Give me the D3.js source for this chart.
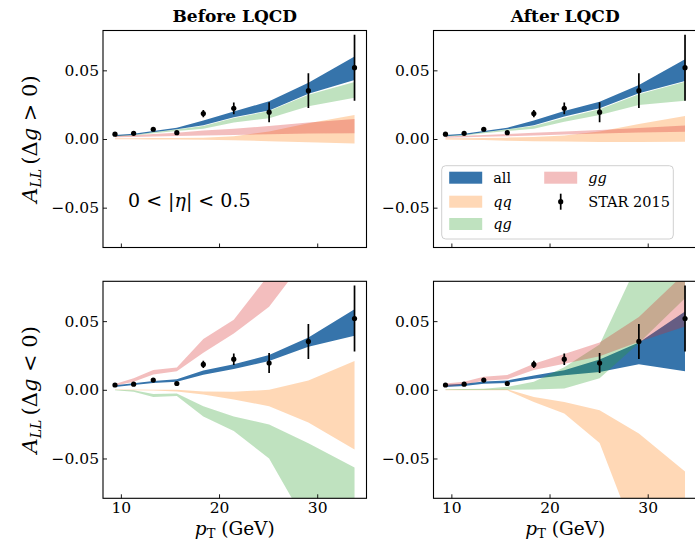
<!DOCTYPE html>
<html><head><meta charset="utf-8">
<script src="https://cdn.jsdelivr.net/npm/d3@7"></script>
<style>
body{margin:0;background:#fff}
svg{display:block}
text{font-family:"DejaVu Serif",serif;fill:#000}
</style>
</head><body>
<svg id="c" width="695" height="552"></svg>
<script>
// ---- data ----
const pT      = [9.4, 11.3, 13.3, 15.7, 18.4, 21.5, 25.1, 29.1, 33.8];
const starA   = [0.0035, 0.0041, 0.0071, 0.0046, 0.0185, 0.0223, 0.0195, 0.0352, 0.0519];
const starErr = [0.0008, 0.0008, 0.0010, 0.0011, 0.0027, 0.0042, 0.0073, 0.0127, 0.0240];

const xTicks = [10, 20, 30];
const yTicks = [-0.05, 0, 0.05];
const colTitles = ["Before LQCD", "After LQCD"];
const seriesNames = ["all", "qq", "qg", "gg"];

// Before LQCD, Δg > 0
const bPos_all_lo = [0.0020,0.0030,0.0049,0.0071,0.0100,0.0158,0.0208,0.0330,0.0430];
const bPos_all_hi = [0.0030,0.0039,0.0058,0.0082,0.0135,0.0200,0.0275,0.0410,0.0600];
const bPos_qq_lo  = [-0.0001,-0.0002,-0.0003,-0.0004,-0.0006,-0.0009,-0.0016,-0.0024,-0.0032];
const bPos_qq_hi  = [0.0006,0.0006,0.0007,0.0008,0.0010,0.0020,0.0055,0.0115,0.0175];
const bPos_qg_lo  = [0.0018,0.0025,0.0042,0.0058,0.0075,0.0121,0.0151,0.0238,0.0300];
const bPos_qg_hi  = [0.0022,0.0030,0.0049,0.0070,0.0095,0.0152,0.0203,0.0323,0.0415];
const bPos_gg_lo  = [0.0012,0.0015,0.0018,0.0022,0.0025,0.0030,0.0035,0.0040,0.0042];
const bPos_gg_hi  = [0.0022,0.0028,0.0036,0.0045,0.0062,0.0075,0.0095,0.0120,0.0145];

// After LQCD, Δg > 0
const aPos_all_lo = [0.0020,0.0030,0.0049,0.0071,0.0100,0.0163,0.0223,0.0333,0.0422];
const aPos_all_hi = [0.0030,0.0039,0.0058,0.0082,0.0135,0.0204,0.0272,0.0393,0.0580];
const aPos_qq_lo  = [-0.0003,-0.0005,-0.0008,-0.0012,-0.0016,-0.0019,-0.0021,-0.0021,-0.0020];
const aPos_qq_hi  = [0.0005,0.0006,0.0008,0.0010,0.0014,0.0025,0.0055,0.0110,0.0168];
const aPos_qg_lo  = [0.0018,0.0025,0.0042,0.0058,0.0075,0.0126,0.0175,0.0248,0.0278];
const aPos_qg_hi  = [0.0022,0.0030,0.0049,0.0070,0.0095,0.0155,0.0216,0.0325,0.0417];
const aPos_gg_lo  = [0.0010,0.0013,0.0016,0.0020,0.0026,0.0032,0.0040,0.0047,0.0053];
const aPos_gg_hi  = [0.0018,0.0024,0.0030,0.0036,0.0045,0.0054,0.0065,0.0080,0.0098];

// Before LQCD, Δg < 0
const bNeg_all_lo = [0.0020,0.0035,0.0050,0.0059,0.0110,0.0151,0.0210,0.0314,0.0394];
const bNeg_all_hi = [0.0033,0.0047,0.0064,0.0076,0.0140,0.0186,0.0253,0.0380,0.0586];
const bNeg_qq_lo  = [-0.0002,-0.0004,-0.0006,-0.0012,-0.0035,-0.0070,-0.0120,-0.0238,-0.0435];
const bNeg_qq_hi  = [0.0002,0.0002,0.0001,0.0000,-0.0012,-0.0015,0.0000,0.0068,0.0210];
const bNeg_qg_lo  = [-0.0003,-0.0015,-0.0052,-0.0045,-0.0195,-0.0300,-0.0500,-0.1000,-0.1500];
const bNeg_qg_hi  = [0.0000,-0.0003,-0.0030,-0.0027,-0.0120,-0.0195,-0.0252,-0.0390,-0.0565];
const bNeg_gg_lo  = [0.0030,0.0059,0.0112,0.0135,0.0270,0.0410,0.0605,0.0980,0.1400];
const bNeg_gg_hi  = [0.0042,0.0085,0.0144,0.0163,0.0370,0.0510,0.0840,0.1250,0.1700];

// After LQCD, Δg < 0
const aNeg_all_lo = [0.0020,0.0028,0.0044,0.0050,0.0080,0.0106,0.0130,0.0186,0.0135];
const aNeg_all_hi = [0.0036,0.0044,0.0060,0.0068,0.0105,0.0142,0.0220,0.0345,0.0570];
const aNeg_qq_lo  = [-0.0003,-0.0003,-0.0003,-0.0004,-0.0089,-0.0173,-0.0387,-0.1130,-0.2000];
const aNeg_qq_hi  = [0.0002,0.0002,0.0002,0.0004,-0.0052,-0.0089,-0.0149,-0.0319,-0.0594];
const aNeg_qg_lo  = [-0.0002,-0.0002,-0.0002,0.0000,0.0003,0.0010,0.0085,0.0340,0.0666];
const aNeg_qg_hi  = [0.0003,0.0005,0.0008,0.0022,0.0058,0.0165,0.0330,0.0940,0.1500];
const aNeg_gg_lo  = [0.0025,0.0039,0.0066,0.0076,0.0144,0.0190,0.0245,0.0350,0.0460];
const aNeg_gg_hi  = [0.0045,0.0058,0.0095,0.0108,0.0190,0.0260,0.0345,0.0530,0.0850];

// ---- styling ----
const bandFill    = {all:"#3674ab", qq:"#ff7f0e", qg:"#2ca02c", gg:"#d62728"};
const bandOpacity = {all:1, qq:0.3, qg:0.3, gg:0.3};

const panels = [
  {c:0, r:0, bands:{all:[bPos_all_lo,bPos_all_hi], qq:[bPos_qq_lo,bPos_qq_hi], qg:[bPos_qg_lo,bPos_qg_hi], gg:[bPos_gg_lo,bPos_gg_hi]}},
  {c:1, r:0, bands:{all:[aPos_all_lo,aPos_all_hi], qq:[aPos_qq_lo,aPos_qq_hi], qg:[aPos_qg_lo,aPos_qg_hi], gg:[aPos_gg_lo,aPos_gg_hi]}},
  {c:0, r:1, bands:{all:[bNeg_all_lo,bNeg_all_hi], qq:[bNeg_qq_lo,bNeg_qq_hi], qg:[bNeg_qg_lo,bNeg_qg_hi], gg:[bNeg_gg_lo,bNeg_gg_hi]}},
  {c:1, r:1, bands:{all:[aNeg_all_lo,aNeg_all_hi], qq:[aNeg_qq_lo,aNeg_qq_hi], qg:[aNeg_qg_lo,aNeg_qg_hi], gg:[aNeg_gg_lo,aNeg_gg_hi]}}
];

const svg = d3.select("#c");
const panelX = [103, 433.5], panelY = [30.5, 281.3];
const PW = 263.5, PH = 217;

const [xmin, xmax] = d3.extent(pT);
const xpad = 0.05 * (xmax - xmin);
const x = d3.scaleLinear().domain([xmin - xpad, xmax + xpad]).range([0, PW]);
const y = d3.scaleLinear().domain([-0.079, 0.079]).range([PH, 0]);
const fmtY = d3.format(".2f");

panels.forEach((p, k) => {
  const px = panelX[p.c], py = panelY[p.r];
  const g = svg.append("g").attr("transform", `translate(${px},${py})`);
  g.append("clipPath").attr("id", "clip" + k)
    .append("rect").attr("width", PW).attr("height", PH);
  const inner = g.append("g").attr("clip-path", `url(#clip${k})`);

  seriesNames.forEach(s => {
    const [lo, hi] = p.bands[s];
    const area = d3.area()
      .x((d, i) => x(pT[i]))
      .y0((d, i) => y(lo[i]))
      .y1((d, i) => y(hi[i]));
    inner.append("path").datum(pT).attr("d", area)
      .attr("fill", bandFill[s]).attr("fill-opacity", bandOpacity[s]);
  });

  // STAR 2015 data
  inner.selectAll("line.err").data(pT).join("line").attr("class", "err")
    .attr("x1", d => x(d)).attr("x2", d => x(d))
    .attr("y1", (d, i) => y(starA[i] - starErr[i]))
    .attr("y2", (d, i) => y(starA[i] + starErr[i]))
    .attr("stroke", "#000").attr("stroke-width", 1.7);
  inner.selectAll("circle.pt").data(pT).join("circle").attr("class", "pt")
    .attr("cx", d => x(d)).attr("cy", (d, i) => y(starA[i]))
    .attr("r", 2.6).attr("fill", "#000");

  // axes
  const xa = d3.axisBottom(x).tickValues(xTicks).tickSizeInner(-4).tickSizeOuter(0).tickPadding(4)
    .tickFormat(p.r === 1 ? d3.format("d") : () => "");
  const ya = d3.axisLeft(y).tickValues(yTicks).tickSizeInner(-4).tickSizeOuter(0).tickPadding(4)
    .tickFormat(d => fmtY(d));
  const gx = g.append("g").attr("transform", `translate(0,${PH})`).call(xa);
  const gy = g.append("g").call(ya);
  [gx, gy].forEach(a => {
    a.select(".domain").remove();
    a.selectAll(".tick line").attr("stroke", "#000").attr("stroke-width", 0.9);
    a.selectAll(".tick text").attr("font-family", "DejaVu Serif").attr("font-size", 15.5).attr("fill", "#000");
  });

  g.append("rect").attr("width", PW).attr("height", PH)
    .attr("fill", "none").attr("stroke", "#000").attr("stroke-width", 1.1);
});

// column titles
colTitles.forEach((t, c) => {
  svg.append("text").attr("x", panelX[c] + PW / 2).attr("y", 22)
    .attr("text-anchor", "middle").attr("font-weight", "bold").attr("font-size", 17).text(t);
});

// y labels
const ySigns = [">", "<"];
ySigns.forEach((sgn, r) => {
  const t = svg.append("text")
    .attr("transform", `translate(37,${panelY[r] + y(0)}) rotate(-90)`)
    .attr("text-anchor", "middle").attr("font-size", 21);
  t.append("tspan").attr("font-style", "italic").text("A");
  t.append("tspan").attr("font-style", "italic").attr("font-size", 14).attr("dy", 4).text("LL");
  t.append("tspan").attr("dy", -4).text("\u2009(Δ");
  t.append("tspan").attr("font-style", "italic").text("g");
  t.append("tspan").text(` ${sgn} 0)`);
});

// x labels
[0, 1].forEach(c => {
  const t = svg.append("text").attr("x", panelX[c] + PW / 2).attr("y", 534.5)
    .attr("text-anchor", "middle").attr("font-size", 18.5);
  t.append("tspan").attr("font-style", "italic").text("p");
  t.append("tspan").attr("font-size", 13).attr("dy", 3.5).text("T");
  t.append("tspan").attr("dy", -3.5).text(" (GeV)");
});

// eta annotation
{
  const t = svg.append("text").attr("x", 128).attr("y", 206.5).attr("font-size", 19);
  t.append("tspan").text("0 < |");
  t.append("tspan").attr("font-style", "italic").text("η");
  t.append("tspan").text("| < 0.5");
}

// legend
{
  const lg = svg.append("g").attr("transform", "translate(441.7,165.7)");
  lg.append("rect").attr("width", 231.6).attr("height", 73.3).attr("rx", 4)
    .attr("fill", "#fff").attr("fill-opacity", 0.8).attr("stroke", "#d0d0d0").attr("stroke-width", 1);
  const legendItems = [
    {s:"all", col:0, row:0, italic:false},
    {s:"qq",  col:0, row:1, italic:true},
    {s:"qg",  col:0, row:2, italic:true},
    {s:"gg",  col:1, row:0, italic:true}
  ];
  const colX = [7.5, 102.5], rowY = [12, 36, 58.3];
  legendItems.forEach(it => {
    lg.append("rect").attr("x", colX[it.col]).attr("y", rowY[it.row] - 6)
      .attr("width", 33).attr("height", 12)
      .attr("fill", bandFill[it.s]).attr("fill-opacity", bandOpacity[it.s]);
    lg.append("text").attr("x", colX[it.col] + 44).attr("y", rowY[it.row] + 5)
      .attr("font-size", 14.5).attr("font-style", it.italic ? "italic" : "normal").text(it.s);
  });
  const ex = colX[1] + 16.5, ey = rowY[1];
  lg.append("line").attr("x1", ex).attr("x2", ex).attr("y1", ey - 8).attr("y2", ey + 8)
    .attr("stroke", "#000").attr("stroke-width", 1.7);
  lg.append("circle").attr("cx", ex).attr("cy", ey).attr("r", 2.6).attr("fill", "#000");
  lg.append("text").attr("x", colX[1] + 44).attr("y", ey + 5).attr("font-size", 14.5).text("STAR 2015");
}
</script>
</body></html>
